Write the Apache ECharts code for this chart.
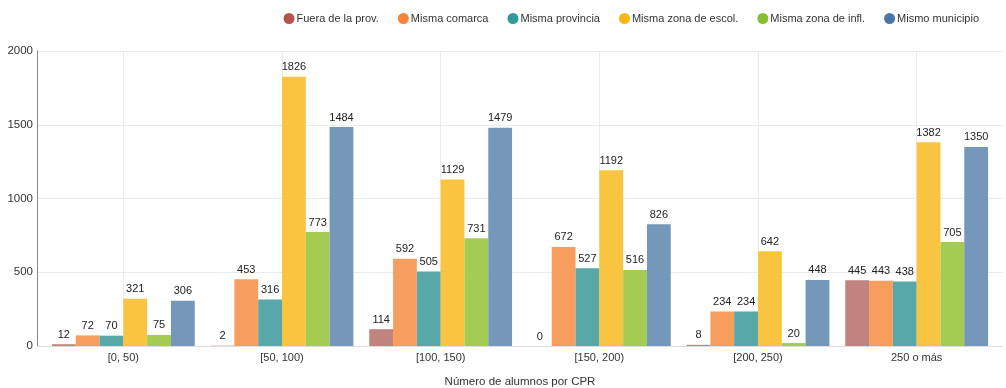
<!DOCTYPE html>
<html>
<head>
<meta charset="utf-8">
<script src="https://cdn.jsdelivr.net/npm/echarts@6/dist/echarts.min.js"></script>
<style>html,body{margin:0;padding:0;background:#fff}#c{width:1006px;height:388px}</style>
</head>
<body>
<div id="c"></div>
<script>
var categories = ['[0, 50)', '[50, 100)', '[100, 150)', '[150, 200)', '[200, 250)', '250 o más'];
var seriesNames = ['Fuera de la prov.', 'Misma comarca', 'Misma provincia', 'Misma zona de escol.', 'Misma zona de infl.', 'Mismo municipio'];
var fueraProv = [12, 2, 114, 0, 8, 445];
var mismaComarca = [72, 453, 592, 672, 234, 443];
var mismaProvincia = [70, 316, 505, 527, 234, 438];
var mismaZonaEscol = [321, 1826, 1129, 1192, 642, 1382];
var mismaZonaInfl = [75, 773, 731, 516, 20, 705];
var mismoMunicipio = [306, 1484, 1479, 826, 448, 1350];
var yTicks = [0, 500, 1000, 1500, 2000];
var axisName = 'Número de alumnos por CPR';

var values = [fueraProv, mismaComarca, mismaProvincia, mismaZonaEscol, mismaZonaInfl, mismoMunicipio];
var barColors = ['#c0837d', '#f79e5e', '#58a8a9', '#f9c440', '#a4cc52', '#7597ba'];
var legendColors = ['#b5534d', '#f5833a', '#2f9a9a', '#fbb714', '#86bf36', '#4d76a8'];
var font = 'Liberation Sans, Arial, sans-serif';

var halfSteps = [];
for (var i = 0; i <= categories.length * 2; i++) halfSteps.push(String(i));

var chart = echarts.init(document.getElementById('c'), null, {renderer: 'canvas'});
chart.setOption({
  animation: false,
  textStyle: {fontFamily: font},
  legend: {
    data: seriesNames.map(function (n, k) { return {name: n, itemStyle: {color: legendColors[k]}}; }),
    icon: 'circle',
    itemWidth: 11, itemHeight: 11, itemGap: 19,
    right: 22, top: 8,
    textStyle: {fontSize: 11, color: '#333', fontFamily: font, padding: [0, 0, 0, -3]}
  },
  grid: [
    {left: 37, right: 3, top: 51, bottom: 42, outerBoundsMode: 'none', containLabel: false},
    {left: 44, right: 10, top: 51, bottom: 42, outerBoundsMode: 'none', containLabel: false}
  ],
  xAxis: [
    {gridIndex: 0, type: 'value', min: 0, max: 1,
     axisLine: {show: true, onZero: false, lineStyle: {color: '#ddd'}},
     axisTick: {show: false}, axisLabel: {show: false}, splitLine: {show: false}},
    {gridIndex: 1, type: 'category', data: categories,
     axisLine: {show: false}, axisTick: {show: false},
     axisLabel: {color: '#333', fontSize: 11, margin: 6, fontFamily: font},
     splitLine: {show: false},
     name: axisName, nameLocation: 'middle', nameGap: 30,
     nameTextStyle: {color: '#333', fontSize: 11.5, fontFamily: font}},
    {gridIndex: 1, type: 'category', data: halfSteps, boundaryGap: false,
     axisLine: {show: false}, axisTick: {show: false}, axisLabel: {show: false},
     splitLine: {show: true, interval: function (idx) { return idx % 2 === 1; },
                 lineStyle: {color: '#ebebeb'}}}
  ],
  yAxis: [
    {gridIndex: 0, type: 'value', min: yTicks[0], max: yTicks[yTicks.length - 1], interval: 500,
     axisLine: {show: true, lineStyle: {color: '#888'}},
     axisTick: {show: false},
     axisLabel: {color: '#333', fontSize: 11.5, margin: 4, fontFamily: font,
                 formatter: function (v) { return String(v); }},
     splitLine: {show: true, lineStyle: {color: '#ebebeb'}}},
    {gridIndex: 1, type: 'value', min: yTicks[0], max: yTicks[yTicks.length - 1], interval: 500,
     axisLine: {show: false}, axisTick: {show: false}, axisLabel: {show: false},
     splitLine: {show: false}}
  ],
  series: seriesNames.map(function (n, k) {
    return {
      name: n, type: 'bar', xAxisIndex: 1, yAxisIndex: 1,
      data: values[k],
      barGap: '0%', barCategoryGap: '10%',
      itemStyle: {color: barColors[k]},
      label: {show: true, position: 'top', distance: 4, color: '#222', fontSize: 11, fontFamily: font}
    };
  })
});
</script>
</body>
</html>
